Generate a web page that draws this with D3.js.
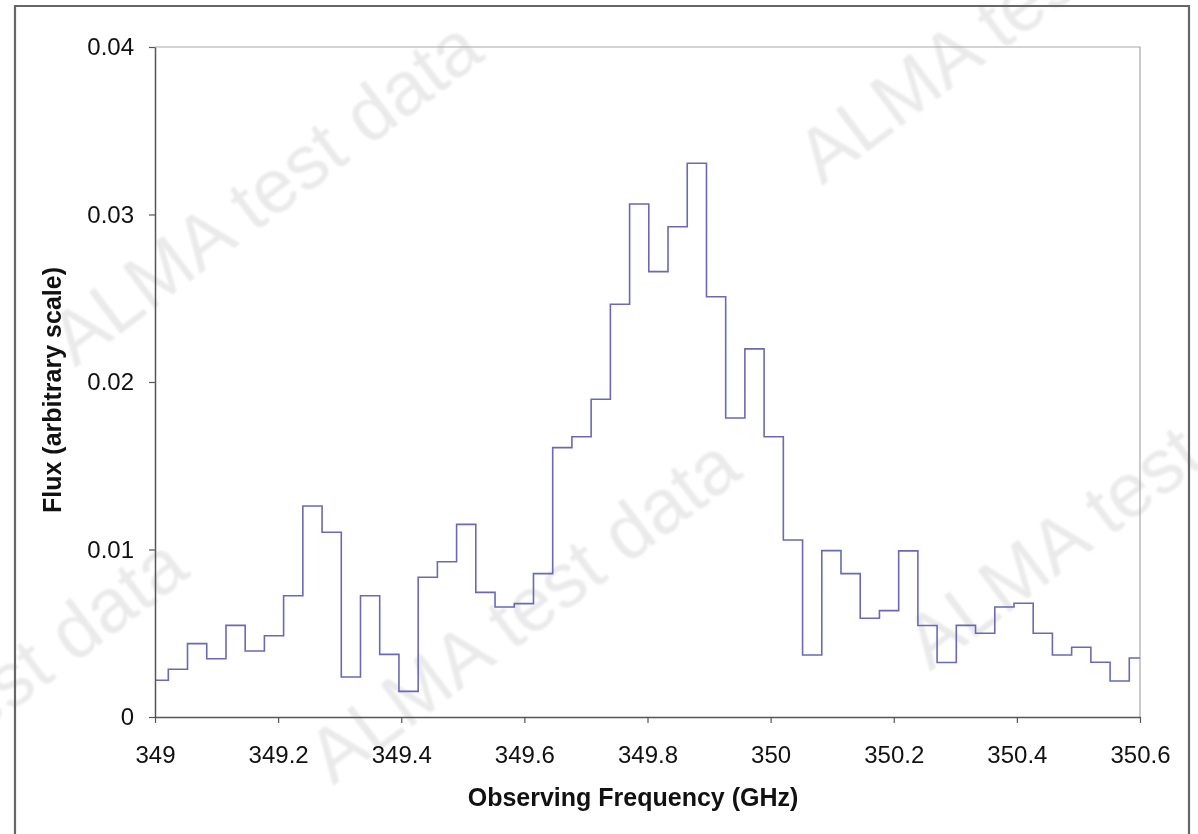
<!DOCTYPE html>
<html>
<head>
<meta charset="utf-8">
<script src="https://cdn.jsdelivr.net/npm/d3@7/dist/d3.min.js"></script>
<style>
  html, body { margin: 0; padding: 0; background: #ffffff; }
  svg { display: block; }
  text { font-family: "Liberation Sans", Arial, sans-serif; }
</style>
</head>
<body>
<svg id="chart" width="1198" height="834"></svg>
<script>
// Channel centre frequencies (GHz)
const frequencies = [
  349.0060, 349.0372, 349.0684, 349.0997, 349.1309, 349.1621, 349.1933, 349.2245,
  349.2558, 349.2870, 349.3182, 349.3494, 349.3806, 349.4119, 349.4431, 349.4743,
  349.5055, 349.5367, 349.5680, 349.5992, 349.6304, 349.6616, 349.6928, 349.7241,
  349.7553, 349.7865, 349.8177, 349.8489, 349.8802, 349.9114, 349.9426, 349.9738,
  350.0050, 350.0363, 350.0675, 350.0987, 350.1299, 350.1611, 350.1924, 350.2236,
  350.2548, 350.2860, 350.3172, 350.3485, 350.3797, 350.4109, 350.4421, 350.4733,
  350.5046, 350.5358, 350.5670, 350.5982
];

// Flux per channel (arbitrary scale)
const flux = [
  0.00219, 0.00285, 0.00438, 0.00348, 0.00547, 0.00394, 0.00485, 0.00724,
  0.01260, 0.01103, 0.00239, 0.00724, 0.00374, 0.00153, 0.00834, 0.00927,
  0.01150, 0.00744, 0.00657, 0.00677, 0.00856, 0.01608, 0.01673, 0.01897,
  0.02464, 0.03063, 0.02659, 0.02927, 0.03306, 0.02509, 0.01785, 0.02198,
  0.01673, 0.01057, 0.00370, 0.00993, 0.00856, 0.00590, 0.00635, 0.00992,
  0.00546, 0.00325, 0.00547, 0.00500, 0.00657, 0.00679, 0.00500, 0.00370,
  0.00416, 0.00327, 0.00215, 0.00352
];

const xTicks = [349, 349.2, 349.4, 349.6, 349.8, 350, 350.2, 350.4, 350.6];
const xTickLabels = ["349", "349.2", "349.4", "349.6", "349.8", "350", "350.2", "350.4", "350.6"];
const yTicks = [0, 0.01, 0.02, 0.03, 0.04];
const yTickLabels = ["0", "0.01", "0.02", "0.03", "0.04"];

const watermarkText = "ALMA test data";

const svg = d3.select("#chart");
const plot = { left: 155, right: 1140, top: 47, bottom: 717 };

const x = d3.scaleLinear().domain([349, 350.6]).range([plot.left, plot.right]);
const y = d3.scaleLinear().domain([0, 0.04]).range([plot.bottom, plot.top]);

// Watermark layer
const defs = svg.append("defs");
defs.append("filter").attr("id", "soft")
  .append("feGaussianBlur").attr("stdDeviation", 0.8);

const wm = svg.append("g").attr("class", "watermark").attr("filter", "url(#soft)");
const wmPlaces = [
  { x: 75, y: 368, anchor: "start" },
  { x: 333, y: 786, anchor: "start" },
  { x: 822, y: 186, anchor: "start" },
  { x: 930, y: 672, anchor: "start" },
  { x: 192, y: 575, anchor: "end" }
];
wmPlaces.forEach(p => {
  wm.append("text")
    .attr("transform", `translate(${p.x},${p.y}) rotate(-37)`)
    .attr("text-anchor", p.anchor)
    .attr("font-size", 76)
    .attr("fill", "#eaeaea")
    .text(watermarkText);
});

// Outer frame
svg.append("path")
  .attr("d", "M15,840 V6 H1189 V840")
  .attr("fill", "none")
  .attr("stroke", "#666")
  .attr("stroke-width", 2.2);

// Plot area border (top and right)
svg.append("path")
  .attr("d", `M${plot.left},${plot.top} H${plot.right} V${plot.bottom}`)
  .attr("fill", "none")
  .attr("stroke", "#a8a8a8")
  .attr("stroke-width", 1.2);

// Step line built from channel edges
const edges = frequencies.map((f, i) => {
  if (i === 0) return f - (frequencies[1] - f) / 2;
  return (frequencies[i - 1] + f) / 2;
});
const lastIdx = frequencies.length - 1;
edges.push(frequencies[lastIdx] + (frequencies[lastIdx] - frequencies[lastIdx - 1]) / 2);
const stepPoints = flux.map((v, i) => [edges[i], v]);
stepPoints.push([edges[edges.length - 1], flux[lastIdx]]);

defs.append("clipPath").attr("id", "plotClip")
  .append("rect")
  .attr("x", plot.left).attr("y", plot.top)
  .attr("width", plot.right - plot.left).attr("height", plot.bottom - plot.top);

const line = d3.line()
  .x(d => x(d[0]))
  .y(d => y(d[1]))
  .curve(d3.curveStepAfter);

svg.append("path")
  .datum(stepPoints)
  .attr("clip-path", "url(#plotClip)")
  .attr("d", line)
  .attr("fill", "none")
  .attr("stroke", "#6a6ab4")
  .attr("stroke-width", 1.6);

// Axes
const xAxis = d3.axisBottom(x)
  .tickValues(xTicks)
  .tickFormat((d, i) => xTickLabels[i])
  .tickSizeInner(6).tickSizeOuter(0).tickPadding(23);
const gx = svg.append("g").attr("transform", `translate(0,${plot.bottom})`).call(xAxis);
gx.select(".domain").attr("stroke", "#555").attr("stroke-width", 1.5);
gx.selectAll(".tick line").attr("stroke", "#555").attr("stroke-width", 1.2);
gx.selectAll(".tick text").attr("font-size", 24).attr("fill", "#111")
  .attr("font-family", "Liberation Sans, Arial, sans-serif");

const yAxis = d3.axisLeft(y)
  .tickValues(yTicks)
  .tickFormat((d, i) => yTickLabels[i])
  .tickSizeInner(6).tickSizeOuter(0).tickPadding(15);
const gy = svg.append("g").attr("transform", `translate(${plot.left},0)`).call(yAxis);
gy.select(".domain").attr("stroke", "#555").attr("stroke-width", 1.5);
gy.selectAll(".tick line").attr("stroke", "#555").attr("stroke-width", 1.2);
gy.selectAll(".tick text").attr("font-size", 24).attr("fill", "#111")
  .attr("font-family", "Liberation Sans, Arial, sans-serif");

// Axis titles
svg.append("text")
  .attr("x", 633).attr("y", 806)
  .attr("text-anchor", "middle")
  .attr("font-size", 25).attr("font-weight", "bold").attr("fill", "#111")
  .text("Observing Frequency (GHz)");

svg.append("text")
  .attr("transform", "translate(61,390) rotate(-90)")
  .attr("text-anchor", "middle")
  .attr("font-size", 25).attr("font-weight", "bold").attr("fill", "#111")
  .text("Flux (arbitrary scale)");
</script>
</body>
</html>
